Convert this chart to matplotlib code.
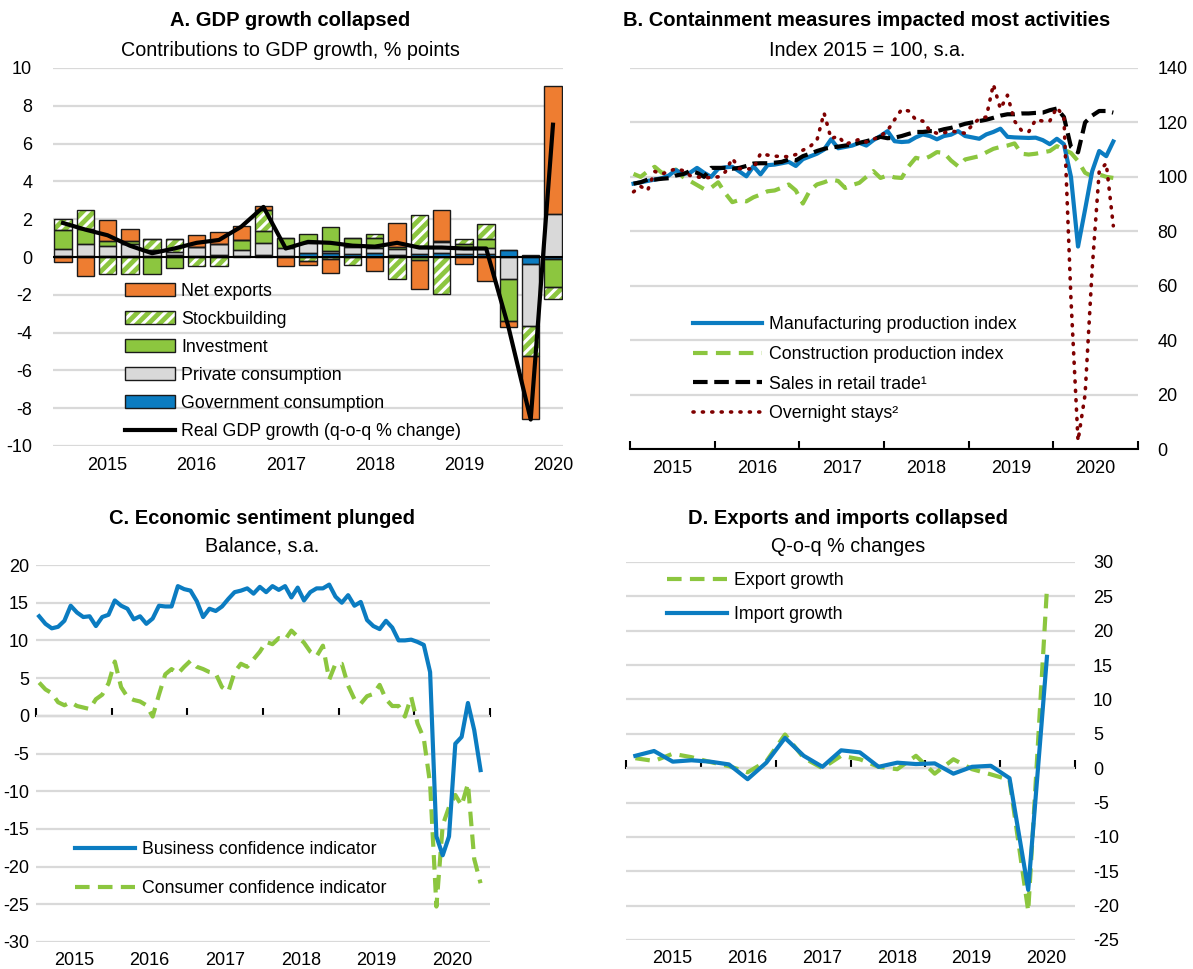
import numpy as np
import matplotlib
matplotlib.use("Agg")
import matplotlib.pyplot as plt
from matplotlib.patches import Patch
from matplotlib.lines import Line2D

plt.rcParams['font.family'] = ['Liberation Sans', 'DejaVu Sans']
plt.rcParams['hatch.linewidth'] = 2.2
plt.rcParams['axes.unicode_minus'] = False

# ---- Panel A: contributions to GDP growth, 2015Q1-2020Q3 ----
gdp_years = ['2015', '2016', '2017', '2018', '2019', '2020']
gov_cons = [0.05, 0.05, 0.05, 0.05, 0.05, 0.1, 0.05, 0.1, 0.05, 0.1, 0.05, 0.2, 0.2, 0.15, 0.2, 0.1,
            0.15, 0.2, 0.15, 0.15, 0.35, -0.35, -0.1]
priv_cons = [0.35, 0.65, 0.55, 0.65, 0.3, 0.15, 0.5, 0.6, 0.3, 0.65, 0.4, 0.55, 0.1, 0.4, 0.3, 0.3,
             0.45, 0.58, 0.3, 0.3, -1.16, -3.3, 2.3]
investment = [1.05, 0.8, 0.23, 0.14, -0.88, -0.56, 0, 0, 0.53, 0.63, 0.53, 0.49, 1.3, 0.45, 0.5, 0.14,
              -0.15, 0.09, 0.23, 0.49, -2.21, 0.1, -1.48]
stockbuilding = [0.55, 0.99, -0.92, -0.92, 0.6, 0.7, -0.49, -0.49, 0, 1.13, 0, -0.23, -0.1, -0.44, 0.23, -1.15,
                 1.62, -1.97, 0.26, 0.78, 0, -1.6, -0.62]
net_exports = [-0.25, -1.02, 1.15, 0.65, 0, 0, 0.62, 0.62, 0.76, 0.18, -0.48, -0.2, -0.76, 0, -0.74, 1.27,
               -1.56, 1.62, -0.37, -1.25, -0.32, -3.32, 6.74]
real_gdp = [1.8, 1.45, 1.15, 0.6, 0.2, 0.45, 0.75, 0.9, 1.6, 2.65, 0.45, 0.8, 0.75, 0.6, 0.55, 0.75,
            0.5, 0.5, 0.45, 0.45, -3.7, -8.6, 7.0]

# ---- Panel B: monthly indices, Jan 2015 - Sep 2020 ----
manufacturing = [97.5, 98, 98.5, 99, 99.5, 100.5, 102.5, 101, 101.5, 103.3,
                 101.5, 100, 103, 103.5, 103.7, 102, 100.2, 103.9, 100.9, 104.3,
                 104.5, 105, 105.5, 104, 106.5, 107.5, 108.5, 110, 113.8, 110.5,
                 111, 111.5, 112.5, 111.5, 113.5, 115, 116.8, 113.1, 112.8, 113,
                 114.5, 115.6, 115, 113.8, 115, 115.5, 116.8, 115, 114.5, 114,
                 115.6, 116.5, 117.7, 114.7, 114.5, 114.4, 114.3, 114.4, 113.5, 112,
                 114, 112, 100, 74.4, 88, 102, 109.5, 107.6, 113]
construction = [101.1, 100, 102, 103.7, 101.5, 101.5, 102.7, 100, 98.5, 97,
                95.5, 96, 98, 94, 90.7, 91.5, 91, 92.5, 93.5, 94.7,
                95, 96, 97.2, 95, 90.2, 95, 97.2, 98, 99, 98.5,
                95.9, 97, 97.8, 100, 102.1, 99.6, 100.5, 99.8, 99.6, 103.9,
                107, 106.4, 107.5, 109.1, 108.8, 106, 103.9, 106.4, 107, 107.6,
                109, 110.3, 111, 111.5, 112.3, 108.5, 108.2, 108.5, 109, 109.5,
                111.3, 110, 108.8, 105.8, 101.5, 100.2, 100.9, 100, 99.6]
retail = [97.5, 98, 99, 99, 99.3, 99.5, 100.5, 101, 102.1, 101.5,
          100, 103.3, 103.3, 103.3, 103, 103.3, 104, 104.9, 105, 105,
          105.2, 105.5, 106.4, 106, 107.6, 108.5, 109.5, 110.3, 110.8, 111.1,
          111.5, 111.9, 112.5, 113.1, 113.8, 114.7, 114.2, 114.4, 115, 115.8,
          116.5, 116.5, 116.8, 116.8, 117.5, 118, 118.7, 119.5, 120, 120.5,
          121, 121.7, 122.5, 123, 123, 123.3, 123.3, 123.5, 123.6, 124.5,
          125.1, 122, 111, 109, 120, 122.5, 124.2, 124.2, 123.6]
overnight = [94.5, 96.5, 95, 102, 101, 102, 103, 102.3, 100.5, 100,
             99.6, 99.8, 100, 101.8, 106.8, 103, 102.9, 103, 108.6, 108,
             107.6, 107.5, 107.4, 108.2, 109.8, 111.1, 113.5, 123.5, 114, 115,
             112, 112.8, 113.8, 112.8, 113.8, 115, 117, 121, 124.8, 124.2,
             121, 120.5, 117, 116, 116.2, 116.8, 116.5, 116, 119, 121.4,
             122, 134, 125, 130, 120.5, 117, 116.5, 121, 120.5, 120.5,
             125.5, 122, 55, 3, 20, 66, 102, 105, 82]

# ---- Panel C: monthly balances, Jan 2015 - Nov 2020 ----
business_conf = [13.2, 12.2, 11.6, 11.8, 12.6, 14.6, 13.7, 13.1, 13.2, 11.9,
                 13.1, 13.4, 15.3, 14.6, 14.2, 12.8, 13.2, 12.2, 12.9, 14.6,
                 14.5, 14.5, 17.2, 16.8, 16.6, 15.2, 13.1, 14.2, 13.9, 14.5,
                 15.5, 16.4, 16.6, 16.9, 16.2, 17.1, 16.4, 17.2, 16.7, 17.2,
                 15.7, 17.0, 15.3, 16.4, 16.9, 16.9, 17.4, 15.8, 15.0, 16.0,
                 14.6, 15.1, 12.7, 11.9, 11.5, 12.6, 11.7, 10.0, 10.0, 10.1,
                 9.8, 9.4, 5.8, -16.0, -18.5, -16.0, -3.7, -2.8, 1.7, -1.9, -7.2]
consumer_conf = [4.4, 3.5, 3.0, 1.8, 1.4, 1.8, 1.3, 1.1, 0.9, 2.2,
                 2.8, 4.3, 7.2, 3.8, 2.5, 2.1, 1.9, 1.4, -0.1, 2.8,
                 5.5, 6.2, 5.6, 6.5, 7.3, 6.5, 6.2, 5.8, 5.6, 3.8,
                 3.2, 5.8, 6.9, 6.5, 7.5, 8.5, 9.8, 9.5, 10.3, 10.1,
                 11.3, 10.5, 9.7, 8.5, 7.9, 9.3, 4.8, 6.9, 6.9, 4.0,
                 2.2, 1.6, 2.6, 2.9, 4.1, 2.2, 1.3, 1.3, -0.1, 2.5,
                 -1.0, -3.0, -9.0, -25.3, -14.5, -12.1, -10.5, -11.9, -9.0, -19.0, -22.2]

# ---- Panel D: quarterly growth, 2015Q1-2020Q3 ----
export_growth = [1.45, 1.05, 2.1, 1.6, 0.9, 0.3, -0.6, 1.0, 4.9, 1.5, 0.0, 1.8, 1.3, 0.2, -0.15, 1.8,
                 -0.8, 1.3, -0.15, -0.9, -1.7, -20.8, 26.1]
import_growth = [1.8, 2.5, 0.95, 1.15, 0.95, 0.55, -1.6, 0.8, 4.4, 1.8, 0.2, 2.6, 2.3, 0.2, 0.8, 0.6,
                 0.7, -0.8, 0.2, 0.35, -1.45, -17.7, 16.2]

BLUE = '#0B7CC1'
GREEN = '#8CC63F'
ORANGE = '#EE7D31'
GREY = '#D9D9D9'
DARKRED = '#7F0000'
GRID = '#D9D9D9'
FS_TICK = 13
FS_LEG = 12.8
FS_TITLE = 14.5
FS_SUB = 14.2

W, H = 1193, 969
fig = plt.figure(figsize=(W / 100, H / 100), dpi=100)


def box(l, t, r, b):
    return [l / W, 1 - b / H, (r - l) / W, (b - t) / H]


def titles(xc, y1, y2, title, sub):
    fig.text(xc / W, 1 - y1 / H, title, ha='center', va='center', fontsize=FS_TITLE, fontweight='bold')
    fig.text(xc / W, 1 - y2 / H, sub, ha='center', va='center', fontsize=FS_SUB)


def base_style(ax):
    for s in ax.spines.values():
        s.set_visible(False)
    ax.yaxis.grid(True, color=GRID, lw=1.6)
    ax.set_axisbelow(True)
    ax.tick_params(axis='both', length=0, labelsize=FS_TICK)


def year_axis(ax, yzero, label_offset=0.5, pad=6):
    years = np.arange(2015, 2021)
    ax.set_xlim(2015, 2021)
    ax.set_xticks(years + label_offset)
    ax.set_xticklabels([str(y) for y in years])
    ax.tick_params(axis='x', length=0, pad=pad)
    sec = ax.secondary_xaxis(yzero, transform=ax.transData)
    sec.set_xticks(np.arange(2015, 2022))
    sec.tick_params(axis='x', direction='in', length=6, width=1.5, labelbottom=False, labeltop=False)
    for s in sec.spines.values():
        s.set_linewidth(1.5)
    return sec


def legend(ax, x, y, handlelength, labelspacing, handles=None, labels=None):
    kw = dict(loc='upper left', bbox_to_anchor=(x, y), frameon=False, fontsize=FS_LEG,
              handlelength=handlelength, handletextpad=0.35, labelspacing=labelspacing,
              borderaxespad=0, borderpad=0)
    if handles is None:
        return ax.legend(**kw)
    return ax.legend(handles, labels, **kw)


# ================= Panel A =================
axA = fig.add_axes(box(53, 68, 563, 446))
base_style(axA)
n = len(real_gdp)
q = np.arange(n)
pos = np.zeros(n)
neg = np.zeros(n)
stack = [(gov_cons, BLUE, None), (priv_cons, GREY, None), (investment, GREEN, None),
         (stockbuilding, GREEN, '///'), (net_exports, ORANGE, None)]
for vals, col, hatch in stack:
    v = np.array(vals, dtype=float)
    bottom = np.where(v >= 0, pos, neg)
    if hatch:
        axA.bar(q, v, 0.78, bottom=bottom, color=col, edgecolor='white', hatch=hatch, linewidth=0, zorder=2)
    else:
        axA.bar(q, v, 0.78, bottom=bottom, color=col, linewidth=0, zorder=2)
    axA.bar(q, v, 0.78, bottom=bottom, fill=False, edgecolor='#1a1a1a', linewidth=1.0, zorder=3)
    pos += np.where(v > 0, v, 0)
    neg += np.where(v < 0, v, 0)
axA.axhline(0, color='black', lw=1.5, zorder=4)
axA.plot(q, real_gdp, color='black', lw=3, zorder=5)
axA.set_ylim(-10, 10)
axA.set_yticks(np.arange(-10, 11, 2))
axA.set_xlim(-0.45, n - 0.55)
axA.set_xticks([2, 6, 10, 14, 18, 22])
axA.set_xticklabels(gdp_years)
axA.tick_params(axis='y', pad=15)
axA.tick_params(axis='x', pad=8)

hatch_h = (Patch(facecolor=GREEN, edgecolor='white', hatch='///', linewidth=0),
           Patch(fill=False, edgecolor='#1a1a1a', linewidth=1))
handlesA = [Patch(facecolor=ORANGE, edgecolor='#1a1a1a', linewidth=1), hatch_h,
            Patch(facecolor=GREEN, edgecolor='#1a1a1a', linewidth=1),
            Patch(facecolor=GREY, edgecolor='#1a1a1a', linewidth=1),
            Patch(facecolor=BLUE, edgecolor='#1a1a1a', linewidth=1),
            Line2D([], [], color='black', lw=3)]
labelsA = ['Net exports', 'Stockbuilding', 'Investment', 'Private consumption',
           'Government consumption', 'Real GDP growth (q-o-q % change)']
legend(axA, 0.141, 0.432, 2.8, 0.62, handlesA, labelsA)
titles(290, 20, 50, 'A. GDP growth collapsed', 'Contributions to GDP growth, % points')

# ================= Panel B =================
axB = fig.add_axes(box(630, 68, 1138, 449))
base_style(axB)
xm = 2015 + (np.arange(len(manufacturing)) + 0.5) / 12
axB.plot(xm, manufacturing, color=BLUE, lw=3, label='Manufacturing production index', zorder=4)
axB.plot(xm, construction, color=GREEN, lw=3, ls=(0, (3.5, 2)), label='Construction production index', zorder=3)
axB.plot(xm, retail, color='black', lw=3, ls=(0, (3.5, 1.6)), label='Sales in retail trade¹', zorder=5)
axB.plot(xm, overnight, color=DARKRED, lw=2.6, ls=(0, (0.3, 2.3)), dash_capstyle='round',
         label='Overnight stays²', zorder=6)
axB.set_ylim(0, 140)
axB.set_yticks(np.arange(0, 141, 20))
axB.yaxis.tick_right()
axB.tick_params(axis='y', pad=14)
axB.set_xlim(2015, 2021)
years = np.arange(2015, 2021)
axB.set_xticks(years + 0.5)
axB.set_xticklabels([str(y) for y in years])
axB.set_xticks(np.arange(2015, 2022), minor=True)
axB.tick_params(axis='x', which='minor', direction='in', length=6, width=1.5)
axB.tick_params(axis='x', which='major', length=0, pad=8)
axB.spines['bottom'].set_visible(True)
axB.spines['bottom'].set_linewidth(1.5)
legend(axB, 0.124, 0.349, 3.9, 0.72)
titles(867, 20, 50, 'B. Containment measures impacted most activities', 'Index 2015 = 100, s.a.')

# ================= Panel C =================
axC = fig.add_axes(box(36, 565, 490, 942))
base_style(axC)
xc = 2015 + (np.arange(len(business_conf)) + 0.5) / 12
axC.plot(xc, business_conf, color=BLUE, lw=3, label='Business confidence indicator', zorder=4)
axC.plot(xc, consumer_conf, color=GREEN, lw=3, ls=(0, (3.5, 2)), label='Consumer confidence indicator', zorder=3)
axC.set_ylim(-30, 20)
axC.set_yticks(np.arange(-30, 21, 5))
axC.tick_params(axis='y', pad=5)
year_axis(axC, 0, 0.5, pad=7)
legend(axC, 0.086, 0.268, 3.4, 1.26)
titles(262, 518, 546, 'C. Economic sentiment plunged', 'Balance, s.a.')

# ================= Panel D =================
axD = fig.add_axes(box(626, 562, 1075, 940))
base_style(axD)
xq = 2015 + (np.arange(len(import_growth)) + 0.5) / 4
axD.plot(xq, export_growth, color=GREEN, lw=3, ls=(0, (3.5, 2)), label='Export growth', zorder=3)
axD.plot(xq, import_growth, color=BLUE, lw=3, label='Import growth', zorder=4)
axD.set_ylim(-25, 30)
axD.set_yticks(np.arange(-25, 31, 5))
axD.yaxis.tick_right()
axD.tick_params(axis='y', pad=13)
year_axis(axD, 0, 0.62, pad=7)
legend(axD, 0.091, 0.974, 3.4, 0.98)
titles(848, 518, 546, 'D. Exports and imports collapsed', 'Q-o-q % changes')

fig.savefig('out.png', dpi=100)
